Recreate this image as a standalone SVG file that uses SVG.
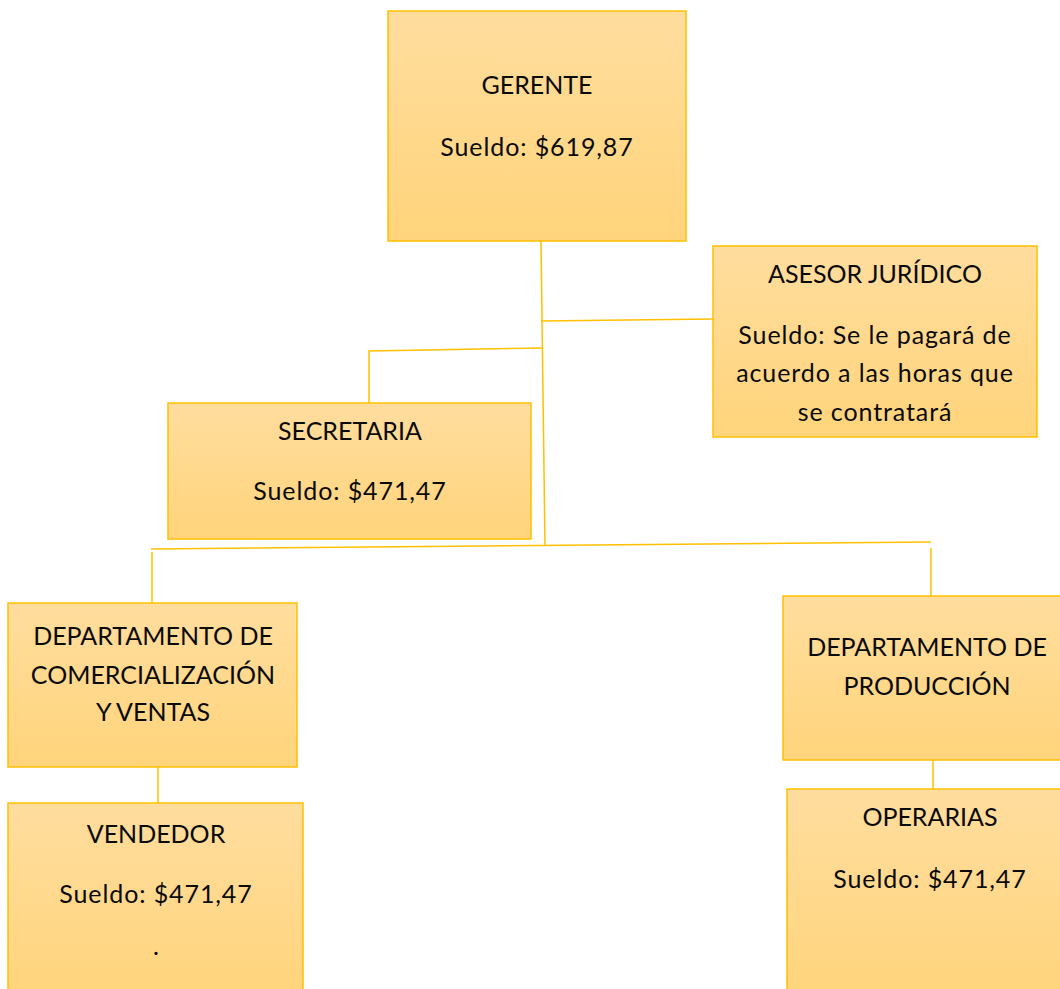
<svg xmlns="http://www.w3.org/2000/svg" width="1060" height="989" viewBox="0 0 1060 989">
  <style>
    .box { fill: url(#boxFill); stroke: #FFC000; stroke-width: 1.5; }
    .lbl { font-family: Lato, "Liberation Sans", sans-serif; font-size: 25px; fill: #0a0a0a; text-anchor: middle; }
    .wide { letter-spacing: 0.9px; }
    .conn { fill: none; stroke: #FFC000; stroke-width: 1.5; }
  </style>
  <defs>
    <linearGradient id="boxFill" x1="0" y1="0" x2="0" y2="1">
      <stop offset="0" stop-color="#FFDD9E"/>
      <stop offset="1" stop-color="#FFD47B"/>
    </linearGradient>
  </defs>
  <rect width="1060" height="989" fill="#FFFFFF"/>

  <!-- connectors -->
  <g id="connectors">
    <path class="conn" d="M541,241 L545,546"/>
    <path class="conn" d="M541,321 L713,319"/>
    <path class="conn" d="M543,348 L369,351 L369,403"/>
    <path class="conn" d="M151,549 L931,542"/>
    <path class="conn" d="M152,552 L152,604"/>
    <path class="conn" d="M931,548 L931,603"/>
    <path class="conn" d="M158,763 L158,803"/>
    <path class="conn" d="M933,752 L933,790"/>
  </g>

  <g id="gerente">
    <rect class="box" x="388" y="11" width="298" height="230"/>
    <text class="lbl" x="537" y="94">GERENTE</text>
    <text class="lbl wide" x="537" y="156">Sueldo: $619,87</text>
  </g>

  <g id="asesor">
    <rect class="box" x="713" y="246" width="324" height="191"/>
    <text class="lbl" x="875" y="283">ASESOR JURÍDICO</text>
    <text class="lbl wide" x="875" y="344">Sueldo: Se le pagará de</text>
    <text class="lbl wide" x="875" y="382">acuerdo a las horas que</text>
    <text class="lbl wide" x="875" y="421">se contratará</text>
  </g>

  <g id="secretaria">
    <rect class="box" x="168" y="403" width="363" height="136"/>
    <text class="lbl" x="350" y="440">SECRETARIA</text>
    <text class="lbl wide" x="350" y="500">Sueldo: $471,47</text>
  </g>

  <g id="dep-comercializacion">
    <rect class="box" x="8" y="603" width="289" height="164"/>
    <text class="lbl" x="153" y="645">DEPARTAMENTO DE</text>
    <text class="lbl" x="153" y="684">COMERCIALIZACIÓN</text>
    <text class="lbl" x="153" y="721">Y VENTAS</text>
  </g>

  <g id="dep-produccion">
    <rect class="box" x="783" y="596" width="290" height="164"/>
    <text class="lbl" x="927" y="656">DEPARTAMENTO DE</text>
    <text class="lbl" x="927" y="695">PRODUCCIÓN</text>
  </g>

  <g id="vendedor">
    <rect class="box" x="8" y="803" width="295" height="200"/>
    <text class="lbl" x="156" y="843">VENDEDOR</text>
    <text class="lbl wide" x="156" y="903">Sueldo: $471,47</text>
    <text class="lbl" x="156" y="955">.</text>
  </g>

  <g id="operarias">
    <rect class="box" x="787" y="789" width="290" height="214"/>
    <text class="lbl" x="930" y="826">OPERARIAS</text>
    <text class="lbl wide" x="930" y="888">Sueldo: $471,47</text>
  </g>
</svg>
